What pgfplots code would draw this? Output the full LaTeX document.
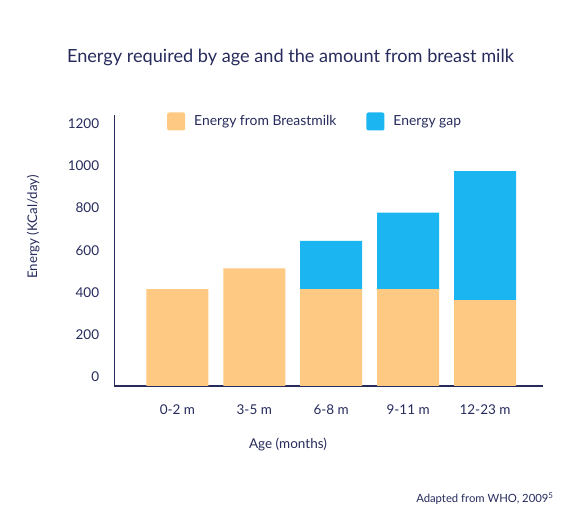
\documentclass[border=0pt]{standalone}
\usepackage{fontspec}
\setmainfont{Lato}
\usepackage{pgfplots}
\pgfplotsset{compat=1.18}
\definecolor{milk}{RGB}{254,201,130}
\definecolor{gapc}{RGB}{27,181,241}
\definecolor{ink}{RGB}{38,43,92}
\pgfplotsset{sq legend/.style={legend image code/.code={\fill[##1, rounded corners=2pt] (0pt,-9pt) rectangle (18pt,9pt);}}}

\begin{document}
\begin{tikzpicture}[x=1pt,y=1pt]
\useasboundingbox (0,0) rectangle (574,519);
\begin{axis}[
  at={(114.3pt,133pt)}, anchor=south west,
  scale only axis, width=428.4pt, height=271pt,
  ymin=0, ymax=1284, xmin=-0.82, xmax=4.75,
  ybar stacked, bar width=62pt,
  axis x line*=bottom, axis y line*=left,
  axis line style={ink, line width=1.2pt},
  xtick={0,...,4},
  xticklabels={0-2 m, 3-5 m, 6-8 m, 9-11 m, 12-23 m},
  ytick={0,200,...,1200},
  major tick length=0pt, tick style={draw=none},
  yticklabel style={anchor=east, inner sep=0pt, xshift=-15pt, yshift=9pt},
  xticklabel style={anchor=center, inner sep=0pt, yshift=-24pt},
  ticklabel style={font=\fontsize{13.5}{15}\selectfont, text=ink},
  /pgf/number format/assume math mode=true,
  /pgf/number format/1000 sep={},
  legend columns=2,
  legend style={at={(0.123,0.976)}, anchor=west, draw=none, fill=none,
    inner sep=0pt, font=\fontsize{13.9}{15}\selectfont, text=ink,
    nodes={inner sep=0pt},
    /tikz/every odd column/.append style={column sep=9pt},
    /tikz/every even column/.append style={column sep=30pt}},
]
\addplot[fill=milk, draw=none, sq legend] coordinates {(0,459) (1,557) (2,459) (3,459) (4,407)};
\addlegendentry{Energy from Breastmilk}
\addplot[fill=gapc, draw=none, sq legend] coordinates {(0,0) (1,0) (2,228) (3,362) (4,611)};
\addlegendentry{Energy gap}
\end{axis}
\node[font=\fontsize{18.15}{21}\selectfont, text=ink] at (290.5,462) {Energy required by age and the amount from breast milk};
\node[rotate=90, font=\fontsize{13.3}{15}\selectfont, text=ink] at (33.3,292) {Energy (KCal/day)};
\node[font=\fontsize{13.5}{15}\selectfont, text=ink] at (288,74) {Age (months)};
\node[anchor=east, font=\fontsize{11.3}{13}\selectfont, text=ink] at (557,20) {Adapted from WHO, 2009\textsuperscript{5}};
\end{tikzpicture}
\end{document}
